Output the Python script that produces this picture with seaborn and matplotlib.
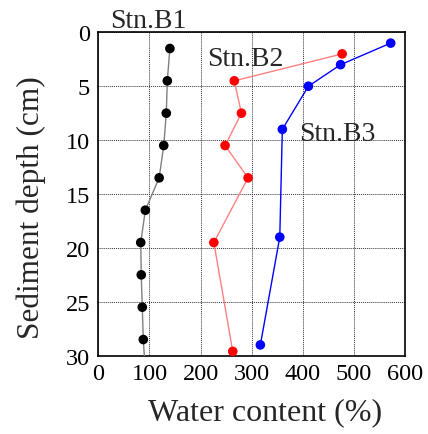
import matplotlib
matplotlib.use("Agg")
import matplotlib.pyplot as plt
import seaborn as sns
import pandas as pd

# Data
b1_depth = [1.5, 4.5, 7.5, 10.5, 13.5, 16.5, 19.5, 22.5, 25.5, 28.5, 31.5]
b1_water = [140, 135, 133, 128, 119, 92, 83, 84, 86, 88, 92]
b2_depth = [2.0, 4.5, 7.5, 10.5, 13.5, 19.5, 29.6]
b2_water = [477, 266, 280, 248, 293, 226, 263]
b3_depth = [1.0, 3.0, 5.0, 9.0, 19.0, 29.0]
b3_water = [572, 474, 411, 360, 355, 317]
x_ticks = [0, 100, 200, 300, 400, 500, 600]
y_ticks = [0, 5, 10, 15, 20, 25, 30]

sns.set_style("white")
plt.rcParams['font.family'] = ['Liberation Serif', 'DejaVu Serif']

fig = plt.figure(figsize=(4.28, 4.35), dpi=100)
ax = fig.add_axes([0.2297, 0.18, 0.9463 - 0.2297, 0.9234 - 0.18])

series = [
    (b1_water, b1_depth, '#808080', 'black'),
    (b2_water, b2_depth, '#ff8080', 'red'),
    (b3_water, b3_depth, 'blue', 'blue'),
]
for w, d, lc, mc in series:
    df = pd.DataFrame({'water': w, 'depth': d})
    sns.lineplot(data=df, x='water', y='depth', sort=False, estimator=None,
                 ax=ax, color=lc, lw=1.0, zorder=3)
    sns.scatterplot(data=df, x='water', y='depth', ax=ax, color=mc,
                    s=48, edgecolor='none', zorder=4)

ax.set_xlim(0, 600)
ax.set_ylim(30, 0)
ax.set_xticks(x_ticks)
ax.set_yticks(y_ticks)
ax.set_xticklabels([str(t) for t in x_ticks], fontsize=17.5)
ax.set_yticklabels([str(t) for t in y_ticks], fontsize=17.5)
ax.tick_params(direction='in', length=3, width=0.8, colors='black')
ax.tick_params(axis='x', pad=5)
ax.tick_params(axis='y', pad=6)
ax.grid(True, color='#333333', linestyle=(0, (1, 1)), linewidth=0.7)
ax.set_axisbelow(True)
for sp in ax.spines.values():
    sp.set_visible(True)
    sp.set_color('black')
    sp.set_linewidth(1.2)

ax.set_xlabel('Water content (%)', fontsize=23)
ax.set_ylabel('Sediment depth (cm)', fontsize=22.5)
ax.xaxis.set_label_coords(0.545, -0.128)
ax.yaxis.set_label_coords(-0.172, 0.462)

ax.text(24, -0.45, 'Stn.B1', fontsize=20, ha='left', va='baseline',
        clip_on=False)
ax.text(212, 3.05, 'Stn.B2', fontsize=20, ha='left', va='baseline')
ax.text(392, 10.0, 'Stn.B3', fontsize=20, ha='left', va='baseline')

fig.savefig('out.png', dpi=100)
